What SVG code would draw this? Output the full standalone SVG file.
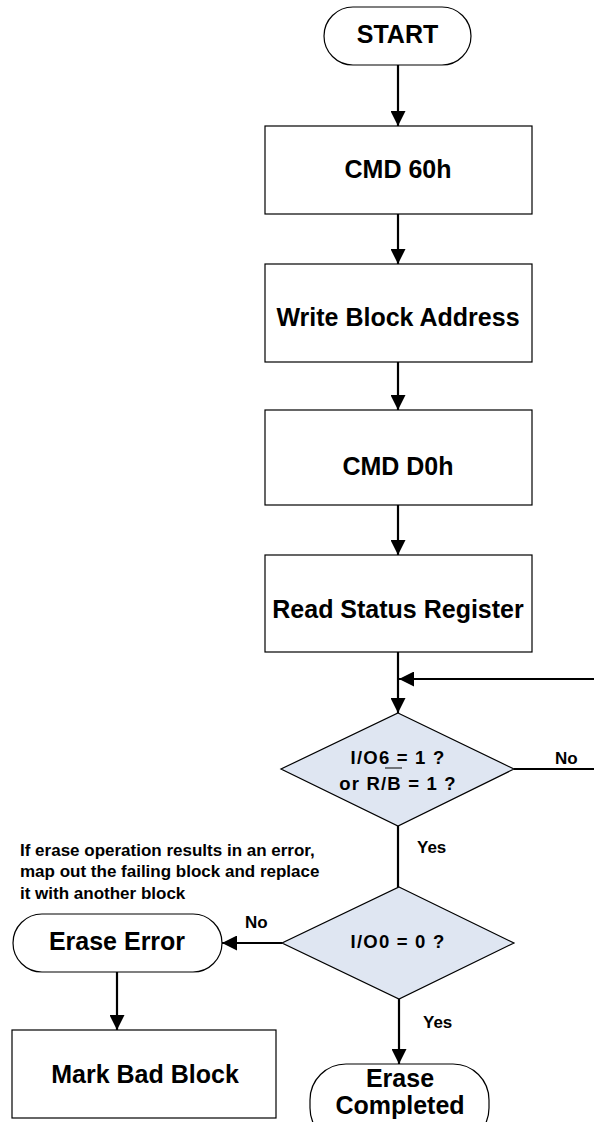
<svg xmlns="http://www.w3.org/2000/svg" width="594" height="1122" viewBox="0 0 594 1122">
<style>
.box{fill:#fff;stroke:#000;stroke-width:1.2}
.dia{fill:#dfe6f2;stroke:#000;stroke-width:1.2}
.t{font-family:"Liberation Sans",Arial,sans-serif;font-weight:bold;font-size:25px;fill:#000;text-anchor:middle}
.s{font-family:"Liberation Sans",Arial,sans-serif;font-weight:bold;font-size:18.5px;letter-spacing:1.2px;fill:#000;text-anchor:middle}
.n{font-family:"Liberation Sans",Arial,sans-serif;font-weight:bold;font-size:17px;fill:#000}
.c{stroke:#000;stroke-width:2.2;fill:none}
</style>
<defs>
<marker id="ah" markerWidth="15" markerHeight="15" refX="15" refY="7.5" viewBox="0 0 15 15" markerUnits="userSpaceOnUse" orient="auto">
<path d="M0,0 L15,7.5 L0,15 Z" fill="#000"/>
</marker>
</defs>
<g id="start"><rect class="box" x="324" y="7" width="147" height="58" rx="29"/><text class="t" x="397.5" y="43">START</text></g>
<g id="cmd60"><rect class="box" x="265" y="126" width="267" height="88"/><text class="t" x="398" y="178">CMD 60h</text></g>
<g id="wba"><rect class="box" x="265" y="264" width="267" height="98"/><text class="t" x="398" y="326">Write Block Address</text></g>
<g id="cmdd0"><rect class="box" x="265" y="410" width="267" height="95"/><text class="t" x="398" y="475">CMD D0h</text></g>
<g id="rsr"><rect class="box" x="265" y="555" width="267" height="97"/><text class="t" x="398" y="618">Read Status Register</text></g>
<g id="d1"><polygon class="dia" points="398,713 514,769 398,826 281,769"/><text class="s" x="398" y="764">I/O6 = 1 ?</text><text class="s" x="398" y="790">or R/B = 1 ?</text><line x1="385" y1="768" x2="402" y2="768" stroke="#000" stroke-width="1"/></g>
<g id="d2"><polygon class="dia" points="399,887 514,943 399,999 282,943"/><text class="s" x="398" y="948">I/O0 = 0 ?</text></g>
<g id="err"><rect class="box" x="13" y="914" width="209" height="58" rx="29"/><text class="t" x="117" y="950">Erase Error</text></g>
<g id="mbb"><rect class="box" x="12" y="1030" width="264" height="88"/><text class="t" x="145" y="1083">Mark Bad Block</text></g>
<g id="done"><rect class="box" x="310" y="1064" width="179" height="80" rx="36"/><text class="t" x="400" y="1087">Erase</text><text class="t" x="400" y="1114">Completed</text></g>
<g id="note"><text class="n" x="20" y="856">If erase operation results in an error,</text><text class="n" x="20" y="877">map out the failing block and replace</text><text class="n" x="20" y="899">it with another block</text></g>
<g id="connectors">
<line class="c" x1="398" y1="65" x2="398" y2="126" marker-end="url(#ah)"/>
<line class="c" x1="398" y1="214" x2="398" y2="264" marker-end="url(#ah)"/>
<line class="c" x1="398" y1="362" x2="398" y2="410" marker-end="url(#ah)"/>
<line class="c" x1="398" y1="505" x2="398" y2="555" marker-end="url(#ah)"/>
<line class="c" x1="398" y1="652" x2="398" y2="713" marker-end="url(#ah)"/>
<line class="c" x1="594" y1="679" x2="399" y2="679" marker-end="url(#ah)"/>
<line class="c" x1="514" y1="769" x2="594" y2="769"/>
<line class="c" x1="398" y1="826" x2="398" y2="887"/>
<line class="c" x1="282" y1="943" x2="222" y2="943" marker-end="url(#ah)"/>
<line class="c" x1="117" y1="972" x2="117" y2="1030" marker-end="url(#ah)"/>
<line class="c" x1="399" y1="999" x2="399" y2="1064" marker-end="url(#ah)"/>
<text class="n" x="555" y="764">No</text>
<text class="n" x="417" y="853">Yes</text>
<text class="n" x="245" y="928">No</text>
<text class="n" x="423" y="1028">Yes</text>
</g>
</svg>
